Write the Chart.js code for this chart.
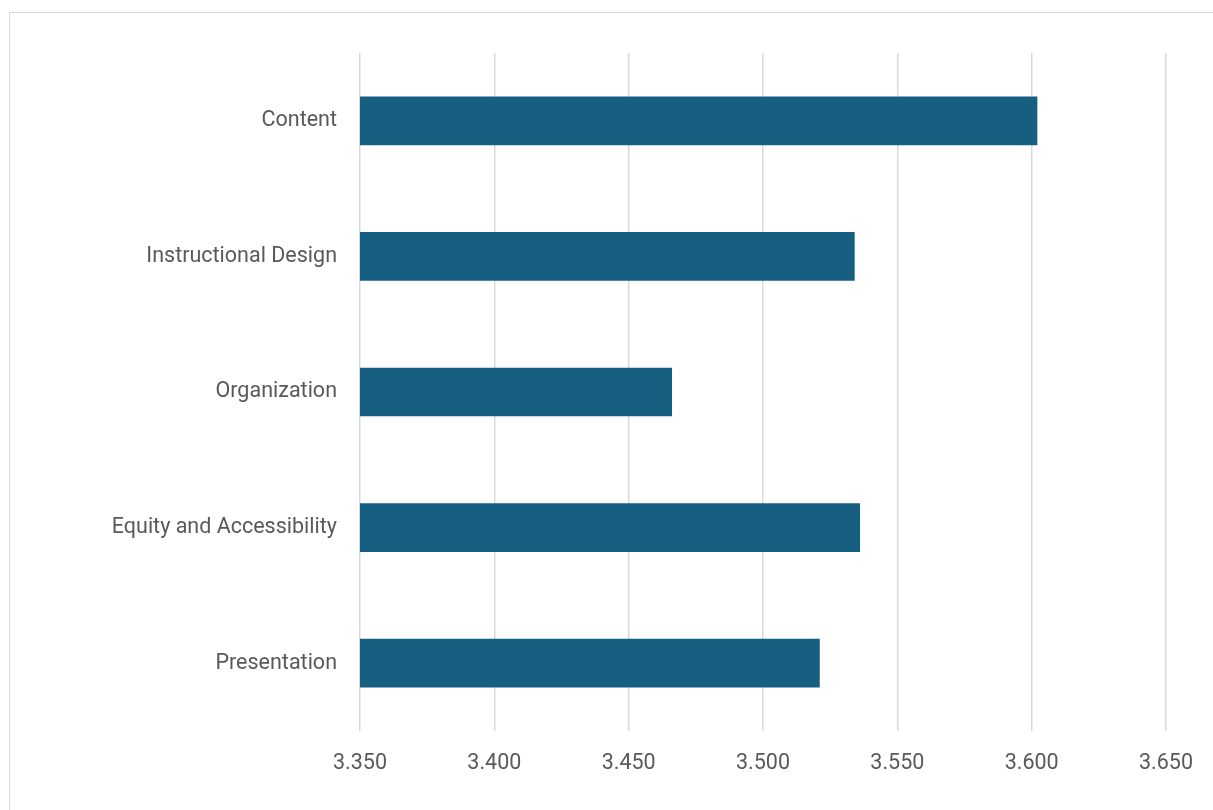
<!DOCTYPE html>
<html>
<head>
<meta charset="utf-8">
<script src="https://cdn.jsdelivr.net/npm/chart.js@4"></script>
<style>
  html, body { margin: 0; padding: 0; background: #fff; overflow: hidden; }
  #wrap { position: relative; width: 1213px; height: 810px; }
  #frame { position: absolute; left: 9px; top: 12px; width: 1400px; height: 1000px;
           border: 1px solid #d9d9d9; box-sizing: border-box; pointer-events: none; }
  canvas { position: absolute; left: 0; top: 0; }
</style>
</head>
<body>
<div id="wrap">
  <div id="frame"></div>
  <canvas id="chart" width="1213" height="810"></canvas>
</div>
<script>
// ------ Data ------
const categories = ['Content', 'Instructional Design', 'Organization', 'Equity and Accessibility', 'Presentation'];
const scores     = [3.602, 3.534, 3.466, 3.536, 3.521];
const xMin = 3.35, xMax = 3.65, xStep = 0.05;

const BAR_COLOR  = '#175f80';
const GRID_COLOR = '#d9d9d9';
const TEXT_COLOR = '#595959';

Chart.defaults.font.family = 'Roboto, "Open Sans", sans-serif';
Chart.defaults.color = TEXT_COLOR;

new Chart(document.getElementById('chart'), {
  type: 'bar',
  data: {
    labels: categories,
    datasets: [{ data: scores, backgroundColor: BAR_COLOR, barThickness: 48, borderWidth: 0 }]
  },
  options: {
    indexAxis: 'y',
    responsive: false,
    animation: false,
    layout: { padding: { top: 53, right: 46, left: 0, bottom: 0 } },
    plugins: { legend: { display: false }, tooltip: { enabled: false } },
    scales: {
      x: {
        min: xMin, max: xMax,
        ticks: { stepSize: xStep, padding: 20, font: { size: 21.5 },
          callback: v => Number(v).toFixed(3) },
        grid: { color: GRID_COLOR, lineWidth: 1.5, drawTicks: false },
        border: { display: false },
        afterFit: s => { s.height = 79; }
      },
      y: {
        ticks: { padding: 23, font: { size: 21.5 } },
        grid: { display: false, drawTicks: false },
        border: { display: false },
        afterFit: s => { s.width = 360; }
      }
    }
  }
});
</script>
</body>
</html>
